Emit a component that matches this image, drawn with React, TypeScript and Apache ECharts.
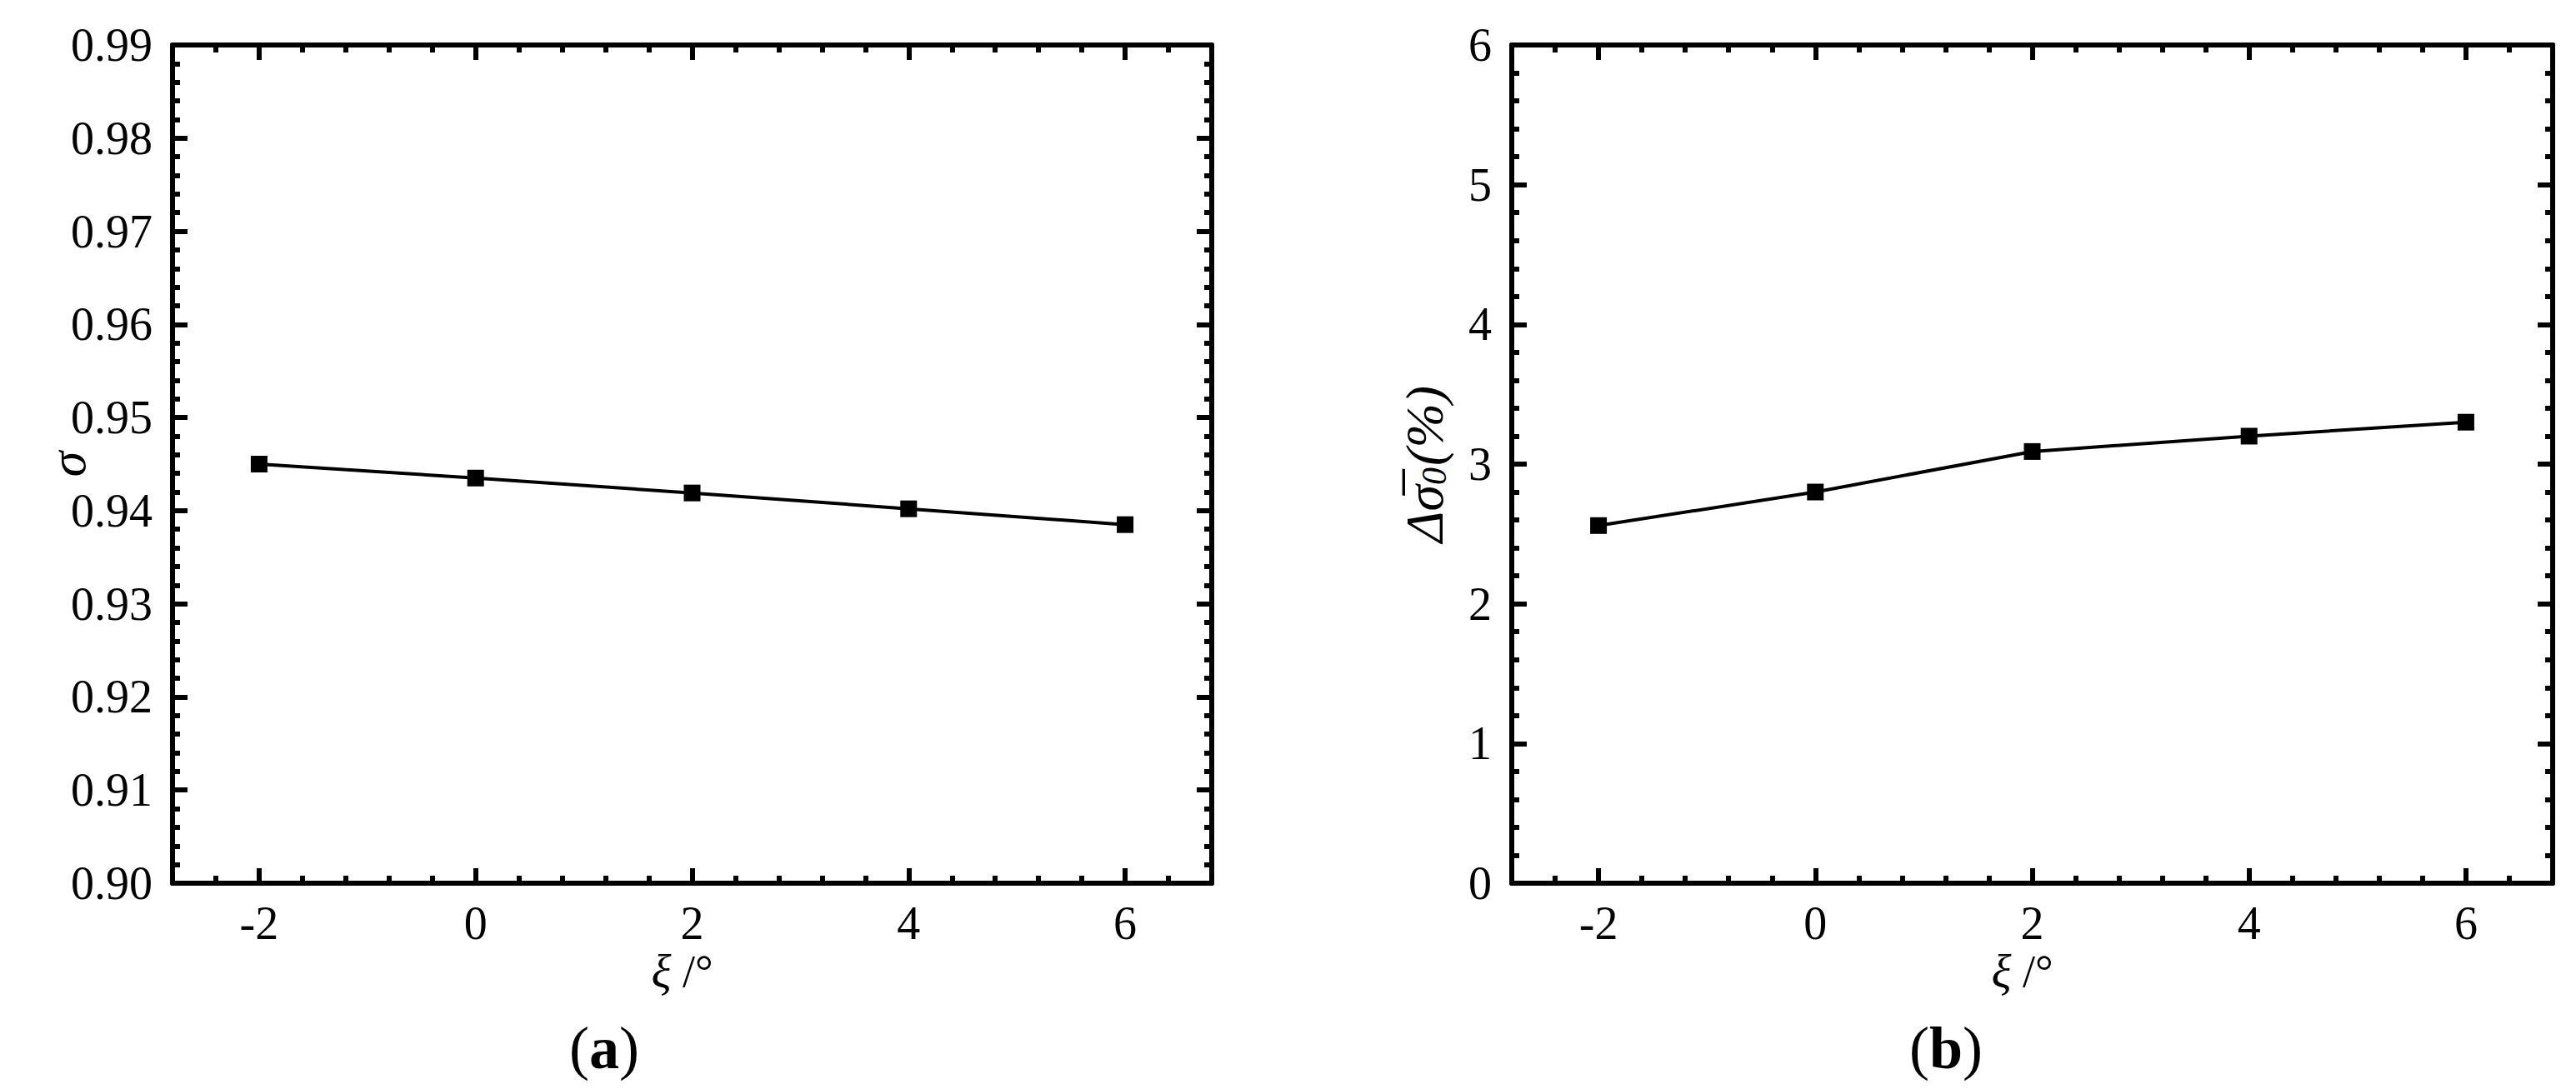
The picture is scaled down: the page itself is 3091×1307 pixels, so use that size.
import React, { useEffect, useRef } from "react";
import * as echarts from "echarts";

// ---- data ----
const xiValues = [-2, 0, 2, 4, 6];
const sigmaValues = [0.945, 0.9435, 0.9419, 0.9402, 0.9385];
const deltaSigmaValues = [2.56, 2.8, 3.09, 3.2, 3.3];

// ---- axis ticks ----
const xMajorTicks = [-2, 0, 2, 4, 6];
const xRange = [-2.8, 6.8];
const xMinorStep = 0.4;
const sigmaRange = [0.9, 0.99];
const sigmaStep = 0.01;
const deltaRange = [0, 6];
const deltaStep = 1;

const FONT = "Liberation Serif";
const BLACK = "#000";

const grids = [
  { left: 207, top: 54, width: 1247, height: 1006 },
  { left: 1814, top: 54, width: 1249, height: 1006 },
];

function xAxesFor(gridIndex: number) {
  const common = {
    type: "value",
    gridIndex,
    min: xRange[0],
    max: xRange[1],
    splitLine: { show: false },
  };
  return [
    {
      ...common,
      position: "bottom",
      axisLine: { show: true, onZero: false, lineStyle: { color: BLACK, width: 6 } },
      axisTick: { show: true, inside: true, length: 18, customValues: xMajorTicks, lineStyle: { color: BLACK, width: 6 } },
      axisLabel: {
        show: true,
        customValues: xMajorTicks,
        margin: 20,
        fontSize: 56,
        fontFamily: FONT,
        color: BLACK,
      },
      name: "{i|ξ} /°",
      nameLocation: "middle",
      nameGap: 78,
      nameMoveOverlap: false,
      nameTextStyle: {
        fontSize: 54,
        fontFamily: FONT,
        color: BLACK,
        padding: [0, 24, 0, 0],
        rich: { i: { fontSize: 56, fontFamily: FONT, fontStyle: "italic", color: BLACK } },
      },
    },
    {
      ...common,
      position: "bottom",
      interval: xMinorStep,
      axisLine: { show: false, onZero: false },
      axisTick: { show: true, inside: true, length: 9, lineStyle: { color: BLACK, width: 6 } },
      axisLabel: { show: false },
    },
    {
      ...common,
      position: "top",
      axisLine: { show: true, onZero: false, lineStyle: { color: BLACK, width: 6 } },
      axisTick: { show: true, inside: true, length: 18, customValues: xMajorTicks, lineStyle: { color: BLACK, width: 6 } },
      axisLabel: { show: false },
    },
    {
      ...common,
      position: "top",
      interval: xMinorStep,
      axisLine: { show: false, onZero: false },
      axisTick: { show: true, inside: true, length: 9, lineStyle: { color: BLACK, width: 6 } },
      axisLabel: { show: false },
    },
  ];
}

function yAxesFor(
  gridIndex: number,
  range: number[],
  step: number,
  decimals: number,
  name: string,
  nameGap: number,
  rich: any
) {
  const common = {
    type: "value",
    gridIndex,
    min: range[0],
    max: range[1],
    interval: step,
    splitLine: { show: false },
    axisLine: { show: true, onZero: false, lineStyle: { color: BLACK, width: 6 } },
    axisTick: { show: true, inside: true, length: 18, lineStyle: { color: BLACK, width: 6 } },
    minorTick: { show: true, splitNumber: 5, length: 9, lineStyle: { color: BLACK, width: 6 } },
  };
  return [
    {
      ...common,
      position: "left",
      axisLabel: {
        show: true,
        margin: 24,
        fontSize: 56,
        fontFamily: FONT,
        color: BLACK,
        formatter: (v: number) => v.toFixed(decimals),
      },
      name,
      nameLocation: "middle",
      nameRotate: 90,
      nameGap,
      nameMoveOverlap: false,
      nameTextStyle: { fontSize: 62, fontFamily: FONT, color: BLACK, rich },
    },
    {
      ...common,
      position: "right",
      axisLabel: { show: false },
    },
  ];
}

export default function App() {
  const ref = useRef<HTMLDivElement>(null);

  useEffect(() => {
    if (!ref.current) return;
    const chart = echarts.init(ref.current, null, { renderer: "svg" });

    const sigmaRich = {
      i: { fontSize: 62, fontFamily: FONT, fontStyle: "italic", color: BLACK },
    };
    const deltaRich = {
      i: { fontSize: 64, fontFamily: FONT, fontStyle: "italic", color: BLACK },
      s: { fontSize: 42, fontFamily: FONT, fontStyle: "italic", color: BLACK, padding: [24, 2, 0, 0] },
      p: { fontSize: 64, fontFamily: FONT, fontStyle: "italic", color: BLACK },
    };

    const option: any = {
      animation: false,
      backgroundColor: "#fff",
      grid: grids.map((g) => ({ ...g, outerBoundsMode: "none", containLabel: false })),
      xAxis: [...xAxesFor(0), ...xAxesFor(1)],
      yAxis: [
        ...yAxesFor(0, sigmaRange, sigmaStep, 2, "{i|σ}", 95, sigmaRich),
        ...yAxesFor(1, deltaRange, deltaStep, 0, "{i|Δσ\u0305}{s|0}{p|(%)}", 72, deltaRich),
      ],
      series: [
        {
          type: "line",
          xAxisIndex: 0,
          yAxisIndex: 0,
          data: xiValues.map((x, i) => [x, sigmaValues[i]]),
          symbol: "rect",
          symbolSize: 20,
          lineStyle: { color: BLACK, width: 4 },
          itemStyle: { color: BLACK },
        },
        {
          type: "line",
          xAxisIndex: 4,
          yAxisIndex: 2,
          data: xiValues.map((x, i) => [x, deltaSigmaValues[i]]),
          symbol: "rect",
          symbolSize: 20,
          lineStyle: { color: BLACK, width: 4 },
          itemStyle: { color: BLACK },
        },
      ],
      graphic: [
        {
          type: "text",
          x: 725,
          y: 1258,
          style: {
            text: "({b|a})",
            fontSize: 72,
            fontFamily: FONT,
            fill: BLACK,
            align: "center",
            verticalAlign: "middle",
            rich: { b: { fontSize: 72, fontFamily: FONT, fontWeight: "bold", fill: BLACK } },
          },
        },
        {
          type: "text",
          x: 2335,
          y: 1258,
          style: {
            text: "({b|b})",
            fontSize: 72,
            fontFamily: FONT,
            fill: BLACK,
            align: "center",
            verticalAlign: "middle",
            rich: { b: { fontSize: 72, fontFamily: FONT, fontWeight: "bold", fill: BLACK } },
          },
        },
      ],
    };

    chart.setOption(option);
    return () => chart.dispose();
  }, []);

  return (
    <div
      ref={ref}
      style={{ position: "absolute", left: 0, top: 0, width: 3091, height: 1307, background: "#fff" }}
    />
  );
}
